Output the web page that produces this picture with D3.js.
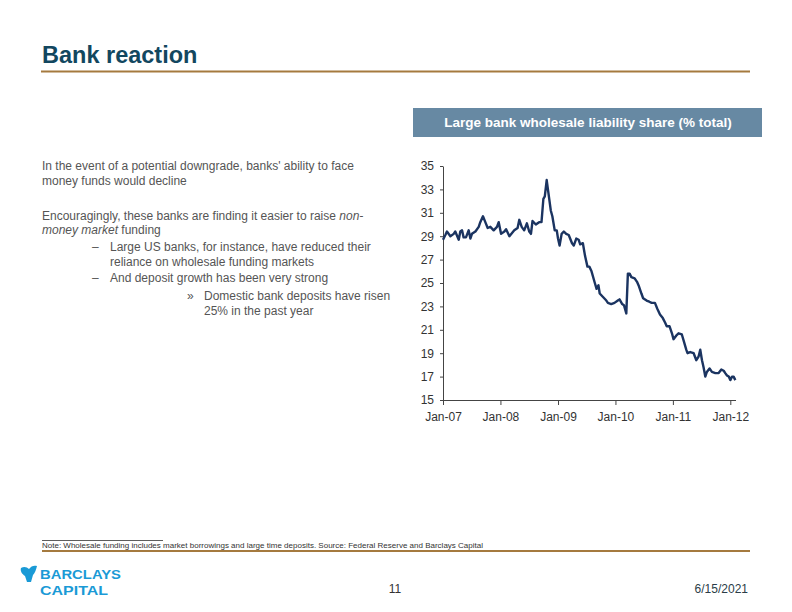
<!DOCTYPE html>
<html><head><meta charset="utf-8">
<script src="https://cdn.jsdelivr.net/npm/d3@7"></script>
<style>
body{margin:0;background:#fff;}
svg{display:block;font-family:"Liberation Sans",Arial,sans-serif;}
</style></head>
<body>
<svg id="c" width="792" height="612"></svg>
<script>
const dates = ["2007-01-01","2007-01-16","2007-01-26","2007-02-17","2007-03-10","2007-03-20","2007-04-11","2007-04-21","2007-05-02","2007-05-12","2007-05-27","2007-06-13","2007-06-24","2007-07-04","2007-07-26","2007-08-16","2007-08-26","2007-09-12","2007-09-27","2007-10-12","2007-10-29","2007-11-19","2007-12-10","2007-12-21",
"2008-01-05","2008-01-26","2008-02-06","2008-02-27","2008-03-29","2008-04-19","2008-04-30","2008-05-15","2008-05-31","2008-06-17","2008-07-02","2008-07-13","2008-07-23","2008-08-13","2008-09-03","2008-09-18","2008-09-30","2008-10-09","2008-10-21","2008-10-30","2008-11-16","2008-11-26","2008-12-11","2008-12-24",
"2009-01-01","2009-01-11","2009-01-24","2009-02-07","2009-02-22","2009-03-10","2009-03-31","2009-04-11","2009-04-27","2009-05-12","2009-05-22","2009-06-08","2009-06-22","2009-07-07","2009-07-19","2009-08-02","2009-08-23","2009-09-03","2009-09-15","2009-09-23","2009-10-14","2009-11-04","2009-11-14","2009-12-05","2009-12-26",
"2010-01-16","2010-01-27","2010-02-13","2010-02-24","2010-03-11","2010-03-21","2010-04-01","2010-04-12","2010-05-03","2010-05-18","2010-05-31","2010-06-15","2010-06-26","2010-07-18","2010-08-04","2010-08-19","2010-09-09","2010-09-24","2010-10-11","2010-10-29","2010-11-13","2010-11-23","2010-12-11","2010-12-26",
"2011-01-05","2011-01-22","2011-02-06","2011-02-27","2011-03-10","2011-03-27","2011-04-04","2011-04-21","2011-05-13","2011-05-30","2011-06-13","2011-06-24","2011-07-05","2011-07-15","2011-07-26","2011-08-05","2011-08-22","2011-09-06","2011-09-28","2011-10-19","2011-11-05","2011-11-20","2011-11-30","2011-12-11","2011-12-22",
"2012-01-01","2012-01-12","2012-01-22","2012-02-02"];
const shares = [28.7,29.1,29.4,29.0,29.2,29.4,28.7,29.4,29.5,28.9,28.9,29.5,28.8,29.2,29.4,29.8,30.2,30.7,30.2,29.7,29.8,29.5,29.8,30.2,
29.2,29.4,29.6,29.0,29.5,29.7,30.4,29.8,29.5,30.1,29.4,29.2,30.3,30.0,30.2,30.2,32.2,32.4,33.8,32.9,31.2,30.7,29.5,29.5,
28.8,28.2,29.2,29.4,29.2,29.1,28.4,28.2,28.8,28.7,28.3,28.4,27.3,26.4,26.4,26.0,25.0,24.5,24.8,24.1,23.8,23.5,23.3,23.2,23.3,
23.5,23.6,23.2,23.1,22.4,25.8,25.8,25.5,25.4,25.1,24.7,24.1,23.7,23.5,23.4,23.3,23.3,22.8,22.3,22.0,21.6,21.3,21.3,20.7,
20.2,20.5,20.7,20.6,20.1,19.3,19.0,19.1,19.0,18.4,18.7,19.3,18.4,17.8,17.0,17.4,17.7,17.4,17.3,17.3,17.6,17.5,17.3,17.1,17.0,
16.7,17.0,17.0,16.7];
const yTicks = [15,17,19,21,23,25,27,29,31,33,35];
const tickDates = ["2007-01-01","2008-01-01","2009-01-01","2010-01-01","2011-01-01","2012-01-01"];
const chartTitle = "Large bank wholesale liability share (% total)";

const svg = d3.select("#c");
const parse = d3.timeParse("%Y-%m-%d");
const data = dates.map((d,i)=>({date:parse(d), v:shares[i]}));

// Slide title
svg.append("text").attr("x",42).attr("y",63).attr("font-size",23.5).attr("font-weight","bold")
  .attr("fill","#12475f").text("Bank reaction");
svg.append("rect").attr("x",41).attr("y",70.5).attr("width",709).attr("height",2).attr("fill","#a57a3f");

// Chart header box
svg.append("rect").attr("x",413).attr("y",108).attr("width",349).attr("height",29).attr("fill","#6789a3");
svg.append("text").attr("x",588).attr("y",127).attr("text-anchor","middle").attr("font-size",13.5)
  .attr("font-weight","bold").attr("fill","#fff").text(chartTitle);

// Body text
const tc = "#555";
function line(x,y,parts){
  const t = svg.append("text").attr("x",x).attr("y",y).attr("font-size",12).attr("fill",tc);
  parts.forEach(p=>{ const s=t.append("tspan").text(p[0]); if(p[1]) s.attr("font-style","italic"); });
}
line(42,170,[["In the event of a potential downgrade, banks' ability to face"]]);
line(42,185,[["money funds would decline"]]);
line(42,220,[["Encouragingly, these banks are finding it easier to raise "],["non-",1]]);
line(42,234,[["money market",1],[" funding"]]);
line(92,251,[["–"]]);
line(110,251,[["Large US banks, for instance, have reduced their"]]);
line(110,266,[["reliance on wholesale funding markets"]]);
line(92,282,[["–"]]);
line(110,282,[["And deposit growth has been very strong"]]);
line(187,300,[["»"]]);
line(204,300,[["Domestic bank deposits have risen"]]);
line(204,315,[["25% in the past year"]]);

// Chart
const x = d3.scaleTime().domain([parse("2007-01-01"), parse("2012-02-03")]).range([443,735.5]);
const y = d3.scaleLinear().domain([15,35]).range([400,166]);

const yAxis = svg.append("g").attr("transform","translate(443,0)")
  .call(d3.axisLeft(y).tickValues(yTicks).tickSize(3).tickSizeOuter(0).tickPadding(6).tickFormat(d3.format("d")));
const xAxis = svg.append("g").attr("transform","translate(0,400)")
  .call(d3.axisBottom(x).tickValues(tickDates.map(parse)).tickSize(5).tickSizeOuter(0).tickPadding(7).tickFormat(d3.timeFormat("%b-%y")));
[yAxis,xAxis].forEach(a=>{
  a.selectAll("path,line").attr("stroke","#444").attr("stroke-width",1);
  a.selectAll("text").attr("font-size",12).attr("fill","#333").attr("font-family","'Liberation Sans',Arial,sans-serif");
});

svg.append("path").datum(data)
  .attr("d", d3.line().x(d=>x(d.date)).y(d=>y(d.v)))
  .attr("fill","none").attr("stroke","#1b3461").attr("stroke-width",2.4).attr("stroke-linejoin","round");

// Footnote
svg.append("line").attr("x1",42).attr("x2",163).attr("y1",540.5).attr("y2",540.5).attr("stroke","#333").attr("stroke-width",0.8);
svg.append("text").attr("x",42).attr("y",548).attr("font-size",7).attr("fill","#333")
  .attr("textLength",441).attr("lengthAdjust","spacingAndGlyphs")
  .text("Note: Wholesale funding includes market borrowings and large time deposits. Source: Federal Reserve and Barclays Capital");
svg.append("rect").attr("x",42).attr("y",550).attr("width",708).attr("height",2).attr("fill","#a57a3f");

// Logo
const lg = svg.append("g");
lg.append("path").attr("fill","#1a9ad6")
  .attr("d","M21,568 C24,566 27,567 29,569 C31,566 34,565 37,566 C36,570 35,573 33,575 L31,582 L27,582 L25,576 C22,574 20,571 21,568 Z");
lg.append("text").attr("x",40).attr("y",579).attr("font-size",13.5).attr("font-weight","bold")
  .attr("font-family","'Liberation Sans',Arial,sans-serif").attr("fill","#1a9ad6")
  .attr("textLength",81).attr("lengthAdjust","spacingAndGlyphs").text("BARCLAYS");
lg.append("text").attr("x",40).attr("y",595).attr("font-size",13.5).attr("font-weight","bold")
  .attr("font-family","'Liberation Sans',Arial,sans-serif").attr("fill","#1a9ad6")
  .attr("textLength",68).attr("lengthAdjust","spacingAndGlyphs").text("CAPITAL");

svg.append("text").attr("x",395).attr("y",593).attr("text-anchor","middle").attr("font-size",12).attr("fill","#333").text("11");
svg.append("text").attr("x",748).attr("y",593).attr("text-anchor","end").attr("font-size",12).attr("fill","#2b3d48").text("6/15/2021");
</script>
</body></html>
